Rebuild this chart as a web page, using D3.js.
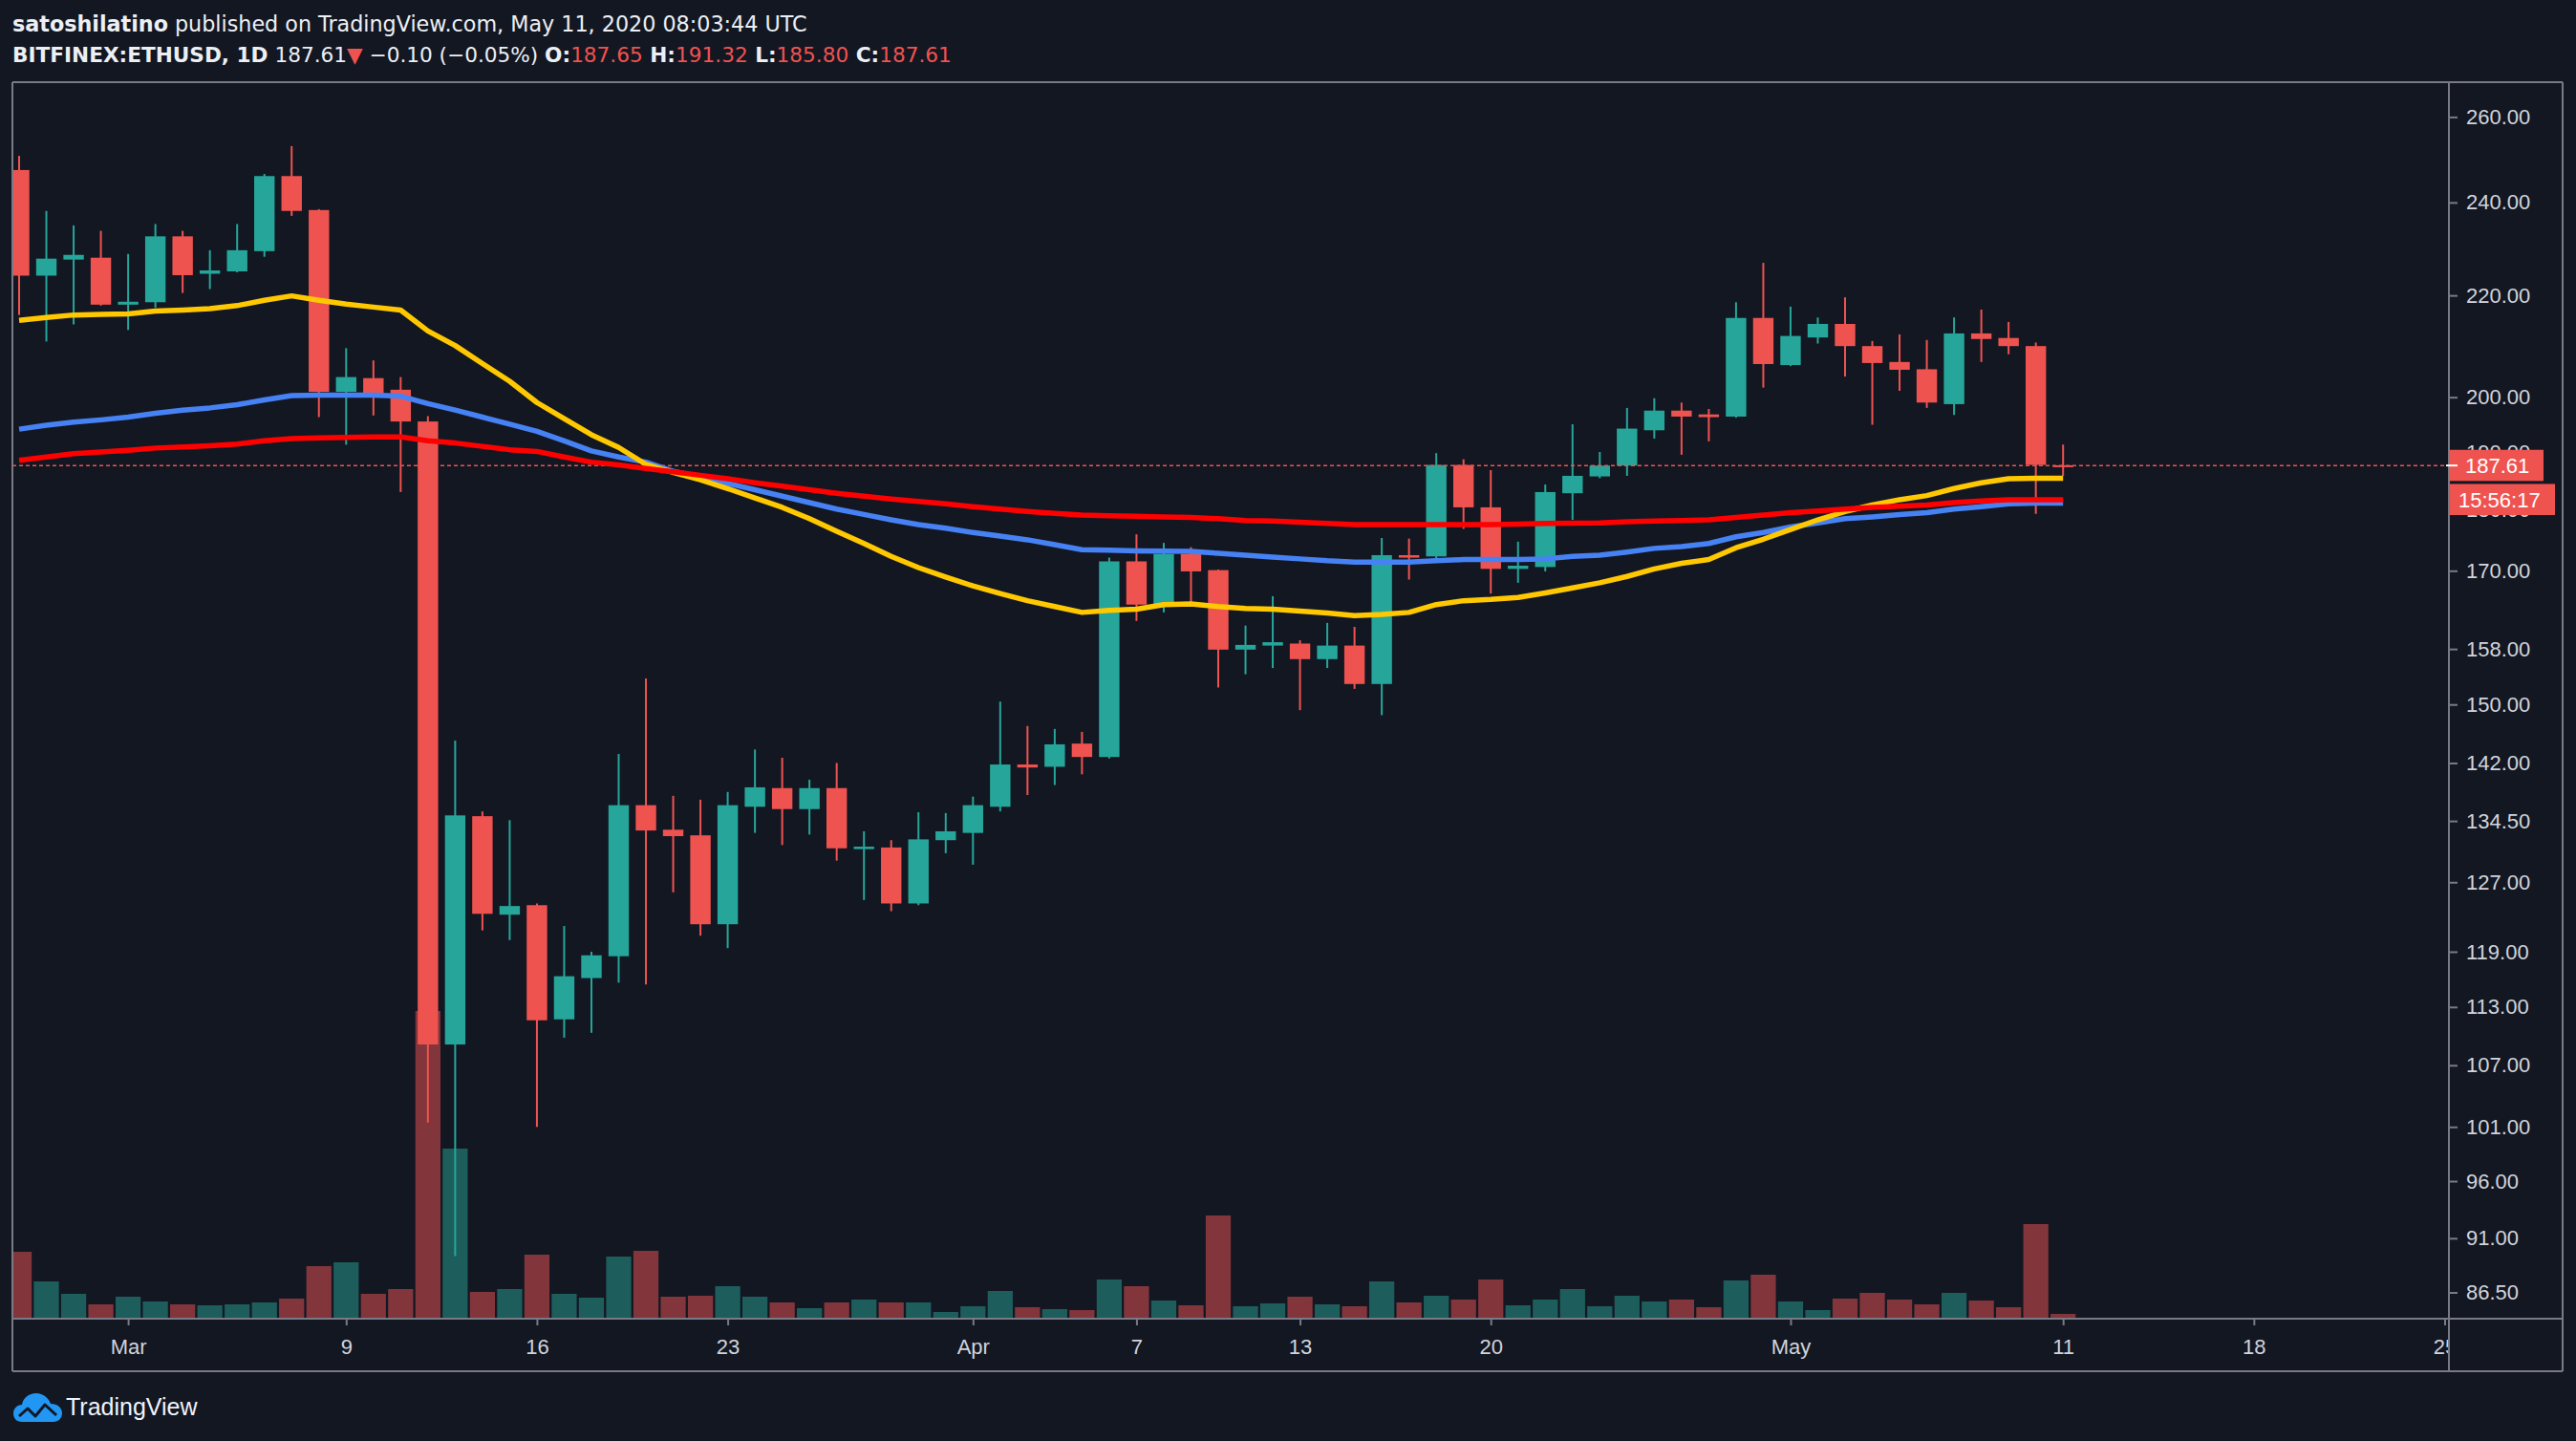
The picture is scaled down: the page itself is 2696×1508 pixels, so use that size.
<!DOCTYPE html>
<html><head><meta charset="utf-8">
<script src="https://cdn.jsdelivr.net/npm/d3@7"></script>
<style>
html,body{margin:0;padding:0;background:#131722;}
svg{display:block;}
</style></head><body>
<svg id="c" width="2696" height="1508"></svg>
<script>
// ---------- DATA ----------
const dates = ["2020-02-26","2020-02-27","2020-02-28","2020-02-29","2020-03-01","2020-03-02","2020-03-03","2020-03-04","2020-03-05","2020-03-06",
"2020-03-07","2020-03-08","2020-03-09","2020-03-10","2020-03-11","2020-03-12","2020-03-13","2020-03-14","2020-03-15","2020-03-16",
"2020-03-17","2020-03-18","2020-03-19","2020-03-20","2020-03-21","2020-03-22","2020-03-23","2020-03-24","2020-03-25","2020-03-26",
"2020-03-27","2020-03-28","2020-03-29","2020-03-30","2020-03-31","2020-04-01","2020-04-02","2020-04-03","2020-04-04","2020-04-05",
"2020-04-06","2020-04-07","2020-04-08","2020-04-09","2020-04-10","2020-04-11","2020-04-12","2020-04-13","2020-04-14","2020-04-15",
"2020-04-16","2020-04-17","2020-04-18","2020-04-19","2020-04-20","2020-04-21","2020-04-22","2020-04-23","2020-04-24","2020-04-25",
"2020-04-26","2020-04-27","2020-04-28","2020-04-29","2020-04-30","2020-05-01","2020-05-02","2020-05-03","2020-05-04","2020-05-05",
"2020-05-06","2020-05-07","2020-05-08","2020-05-09","2020-05-10","2020-05-11"];
const opens = [247.4,224.1,227.5,227.9,218.1,218.6,232.5,224.5,225.0,229.3,
246.0,238.3,201.0,203.6,201.4,195.5,109.1,135.1,123.2,124.3,
111.7,116.1,118.5,136.5,133.4,132.7,122.1,136.3,138.7,136.0,
138.7,131.0,131.2,124.5,132.1,133.0,136.3,141.8,141.5,144.6,
142.8,171.5,164.7,172.7,170.1,157.9,158.5,158.8,156.5,158.5,
152.9,172.5,172.3,187.7,180.4,170.3,170.6,182.8,185.7,187.6,
193.9,197.5,196.8,196.4,215.4,206.1,211.5,214.2,209.8,206.7,
205.3,198.7,212.3,211.4,209.8,187.65];
const highs = [250.7,238.1,234.9,233.7,228.7,235.2,233.7,229.5,235.2,246.5,
253.0,238.5,209.4,207.0,203.8,196.5,145.0,135.7,134.6,124.5,
121.9,119.0,143.2,153.7,137.7,137.2,138.2,143.8,142.7,139.8,
142.0,133.2,132.1,135.6,135.5,137.6,150.4,147.0,146.6,146.2,
172.1,175.9,174.5,173.8,170.2,161.5,166.0,159.3,161.9,161.3,
175.3,175.2,189.8,188.7,186.8,174.7,184.3,195.0,190.0,198.0,
199.8,199.0,197.8,218.6,226.8,217.7,215.5,219.6,210.8,212.1,
211.0,215.5,217.1,214.6,210.5,191.32];
const lows = [216.0,210.7,214.1,217.9,213.0,217.5,220.5,221.3,224.8,228.1,
237.0,196.3,191.3,196.6,183.0,101.4,89.5,121.4,120.3,101.0,
109.8,110.3,115.6,115.4,125.8,120.8,119.4,133.0,131.5,132.8,
129.6,124.9,123.6,124.3,130.5,129.1,135.7,137.8,139.1,140.5,
142.6,162.2,163.5,165.1,152.4,154.3,155.2,149.2,155.2,152.2,
148.5,168.6,172.0,176.8,166.4,168.1,169.9,178.3,185.4,185.8,
192.4,189.5,191.9,196.2,201.8,205.9,210.3,203.9,194.9,201.2,
198.0,196.7,206.7,208.2,179.3,185.80];
const closes = [224.1,227.7,228.5,218.1,218.7,232.5,224.2,225.2,229.5,246.0,
238.1,201.0,203.8,200.4,195.5,109.1,135.2,123.3,124.2,111.6,
116.3,118.6,136.5,133.3,132.6,122.1,136.5,138.8,136.0,138.7,
131.1,131.3,124.5,132.2,133.2,136.5,141.8,141.4,144.5,142.8,
171.5,164.7,172.7,169.9,157.9,158.6,159.0,156.5,158.5,152.9,
172.5,172.1,187.7,180.4,170.3,170.8,183.0,185.8,187.6,194.2,
197.5,196.4,196.3,215.4,206.3,211.8,214.2,209.8,206.5,205.2,
199.0,212.3,211.2,209.8,187.71,187.61];
const volumes = [70,39,26,15,23,18,15,14,15,17,
21,55,59,26,31,322,178,28,31,67,
26,22,65,71,23,24,34,23,17,11,
17,20,17,17,7,13,29,12,10,9,
41,34,19,14,108,13,16,23,15,13,
39,17,24,20,41,14,20,31,13,24,
18,20,12,40,46,18,9,21,27,20,
15,27,19,12,99,5];
const maYellow = [214.9,215.5,216.0,216.1,216.2,216.8,217.0,217.3,217.9,219.0,
219.9,219.0,218.2,217.6,217.0,212.8,209.9,206.4,203.0,199.0,
196.0,193.1,190.8,187.8,186.4,185.1,183.6,182.0,180.4,178.5,
176.4,174.4,172.3,170.5,169.0,167.6,166.4,165.3,164.4,163.5,
163.8,164.0,164.7,164.8,164.4,164.1,164.0,163.7,163.4,163.0,
163.2,163.5,164.7,165.3,165.5,165.8,166.5,167.3,168.1,169.1,
170.3,171.2,171.8,173.7,175.1,176.7,178.3,179.7,180.8,181.7,
182.4,183.6,184.6,185.3,185.4,185.4];
const maBlue = [194.1,194.8,195.4,195.8,196.3,197.0,197.6,198.0,198.6,199.5,
200.3,200.4,200.4,200.4,200.2,198.8,197.6,196.3,195.0,193.7,
192.0,190.2,189.1,188.2,186.6,185.6,184.5,183.4,182.3,181.2,
180.1,179.2,178.3,177.5,176.9,176.2,175.6,175.0,174.2,173.4,
173.3,173.2,173.15,173.1,172.8,172.5,172.2,171.9,171.6,171.4,
171.4,171.4,171.6,171.8,171.8,171.8,171.9,172.3,172.5,173.0,
173.6,173.9,174.4,175.5,176.2,177.1,177.8,178.5,178.8,179.2,
179.5,180.1,180.5,181.0,181.1,181.1];
const maRed = [188.5,189.1,189.7,190.0,190.3,190.7,190.9,191.1,191.4,192.0,
192.4,192.5,192.6,192.7,192.7,192.0,191.6,191.0,190.4,190.1,
189.1,188.2,187.7,187.1,186.5,185.9,185.3,184.6,184.0,183.4,
182.8,182.3,181.8,181.4,181.0,180.5,180.1,179.7,179.4,179.1,
179.0,178.9,178.8,178.7,178.5,178.2,178.1,177.9,177.7,177.5,
177.5,177.5,177.5,177.5,177.5,177.6,177.7,177.75,177.8,178.0,
178.1,178.2,178.3,178.7,179.1,179.5,179.8,180.1,180.4,180.6,
180.8,181.2,181.5,181.7,181.7,181.7];
const priceTicks = [260,240,220,200,190,180,170,158,150,142,134.5,127,119,113,107,101,96,91,86.5];
const timeTicks = ["2020-03-01","2020-03-09","2020-03-16","2020-03-23","2020-04-01","2020-04-07","2020-04-13","2020-04-20","2020-05-01","2020-05-11","2020-05-18","2020-05-25"];
const timeLabels = ["Mar","9","16","23","Apr","7","13","20","May","11","18","25"];
const countdown = "15:56:17";

// ---------- SETUP ----------
const W = 2696, H = 1508;
const plotL = 13, plotR = 2563, plotT = 87, plotB = 1380, axisB = 1435, outerR = 2682;
const UP = "#26a69a", DOWN = "#ef5350";
const UPV = "#1d5e5d", DOWNV = "#82363b";
const LINE = "#787b86", TXT = "#d1d4dc";
const svg = d3.select("#c");
svg.append("rect").attr("width", W).attr("height", H).attr("fill", "#131722");

const parse = d3.utcParse("%Y-%m-%d");
const data = dates.map((d, i) => ({date: parse(d), o: opens[i], h: highs[i], l: lows[i], c: closes[i], v: volumes[i]}));

const x = d3.scaleUtc().domain([parse("2020-03-01"), parse("2020-05-25")]).range([134.1, 2558.5]);
const y = d3.scaleLog().domain([260, 86.5]).range([122.4, 1352.5]);
const yv = d3.scaleLinear().domain([0, 322]).range([plotB, 1058]);
const day = x(parse("2020-03-02")) - x(parse("2020-03-01"));

const defs = svg.append("defs");
defs.append("clipPath").attr("id", "plotclip").append("rect")
  .attr("x", plotL).attr("y", plotT).attr("width", plotR - plotL).attr("height", plotB - plotT);
defs.append("clipPath").attr("id", "timeclip").append("rect")
  .attr("x", plotL).attr("y", plotB).attr("width", plotR - plotL).attr("height", axisB - plotB);

const plot = svg.append("g").attr("clip-path", "url(#plotclip)");

// volume
const vw = day * 0.92;
plot.append("g").selectAll("rect").data(data).join("rect")
  .attr("x", d => x(d.date) - vw / 2).attr("width", vw)
  .attr("y", d => yv(d.v)).attr("height", d => plotB - yv(d.v))
  .attr("fill", d => d.c >= d.o ? UPV : DOWNV);

// candles
const bw = day * 0.75;
const cg = plot.append("g");
cg.selectAll("line").data(data).join("line")
  .attr("x1", d => x(d.date)).attr("x2", d => x(d.date))
  .attr("y1", d => y(d.h)).attr("y2", d => y(d.l))
  .attr("stroke", d => d.c >= d.o ? UP : DOWN).attr("stroke-width", 2);
cg.selectAll("rect").data(data).join("rect")
  .attr("x", d => x(d.date) - bw / 2).attr("width", bw)
  .attr("y", d => y(Math.max(d.o, d.c)))
  .attr("height", d => Math.max(2, Math.abs(y(d.o) - y(d.c))))
  .attr("fill", d => d.c >= d.o ? UP : DOWN);

// last price line
const last = data[data.length - 1];
const prev = data[data.length - 2];
plot.append("line").attr("x1", plotL).attr("x2", plotR)
  .attr("y1", y(last.c)).attr("y2", y(last.c))
  .attr("stroke", DOWN).attr("stroke-width", 1.5).attr("stroke-dasharray", "4,3");

// moving averages
function maLine(vals, color) {
  const ln = d3.line().x((v, i) => x(data[i].date)).y(v => y(v));
  plot.append("path").datum(vals).attr("d", ln).attr("fill", "none")
    .attr("stroke", color).attr("stroke-width", 5.5)
    .attr("stroke-linejoin", "round").attr("stroke-linecap", "butt");
}
maLine(maBlue, "#4682f4");
maLine(maYellow, "#ffc800");
maLine(maRed, "#ff0000");

// ---------- AXES ----------
const fmt = d3.format(".2f");
const ya = svg.append("g").attr("transform", `translate(${plotR},0)`)
  .call(d3.axisRight(y).tickValues(priceTicks).tickFormat(fmt).tickSize(9).tickPadding(9));
ya.select(".domain").remove();
ya.selectAll("line").attr("stroke", LINE).attr("stroke-width", 2);
ya.selectAll("text").attr("fill", TXT).attr("font-family", "Liberation Sans, Arial, sans-serif").attr("font-size", 22);

const xwrap = svg.append("g").attr("clip-path", "url(#timeclip)");
const xa = xwrap.append("g").attr("transform", `translate(0,${plotB})`)
  .call(d3.axisBottom(x).tickValues(timeTicks.map(parse)).tickFormat((d, i) => timeLabels[i]).tickSize(7).tickPadding(14));
xa.select(".domain").remove();
xa.selectAll("line").attr("stroke", LINE).attr("stroke-width", 2);
xa.selectAll("text").attr("fill", TXT).attr("font-family", "Liberation Sans, Arial, sans-serif").attr("font-size", 22);

// frame
const fr = svg.append("g").attr("stroke", LINE).attr("stroke-width", 2);
fr.append("line").attr("x1", plotL).attr("x2", outerR).attr("y1", 86).attr("y2", 86);
fr.append("line").attr("x1", plotL).attr("x2", outerR).attr("y1", plotB).attr("y2", plotB);
fr.append("line").attr("x1", plotL).attr("x2", outerR).attr("y1", axisB).attr("y2", axisB);
fr.append("line").attr("x1", plotL).attr("x2", plotL).attr("y1", 86).attr("y2", axisB);
fr.append("line").attr("x1", plotR).attr("x2", plotR).attr("y1", 86).attr("y2", axisB);
fr.append("line").attr("x1", outerR).attr("x2", outerR).attr("y1", 86).attr("y2", axisB);

// price labels
const py = y(last.c);
svg.append("rect").attr("x", plotR).attr("y", py - 16.4).attr("width", 99).attr("height", 32.6).attr("fill", DOWN);
svg.append("line").attr("x1", plotR - 3).attr("x2", plotR + 9).attr("y1", py).attr("y2", py).attr("stroke", "#ffffff").attr("stroke-width", 2);
svg.append("text").attr("x", 2580).attr("y", py + 8).attr("fill", "#ffffff")
  .attr("font-family", "Liberation Sans, Arial, sans-serif").attr("font-size", 22).text(fmt(last.c));
svg.append("rect").attr("x", plotR + 1).attr("y", py + 19.3).attr("width", 110).attr("height", 32.6).attr("fill", DOWN);
svg.append("text").attr("x", 2573).attr("y", py + 43.5).attr("fill", "#ffffff")
  .attr("font-family", "Liberation Sans, Arial, sans-serif").attr("font-size", 22).text(countdown);

// ---------- HEADER ----------
function richText(x0, yb, parts, fs, target) {
  const t = svg.append("text").attr("x", x0).attr("y", yb)
    .attr("font-family", "DejaVu Sans, sans-serif").attr("font-size", fs)
    .attr("fill", "#eceff4").style("white-space", "pre");
  parts.forEach(p => t.append("tspan").text(p.t).attr("font-weight", p.b ? "bold" : "normal").attr("fill", p.c || "#eceff4"));
  const w = t.node().getComputedTextLength();
  if (w > 0) t.attr("font-size", fs * target / w);
}
richText(13, 33, [{t: "satoshilatino", b: 1}, {t: " published on TradingView.com, May 11, 2020 08:03:44 UTC"}], 21, 832);
const chg = last.c - prev.c;
const pct = chg / prev.c * 100;
const sgn = v => (v < 0 ? "\u2212" : "+") + Math.abs(v).toFixed(2);
richText(13, 65, [
  {t: "BITFINEX:ETHUSD, 1D", b: 1},
  {t: " " + fmt(last.c)},
  {t: "\u25BC", c: DOWN},
  {t: " " + sgn(chg) + " (" + sgn(pct) + "%) "},
  {t: "O:", b: 1}, {t: fmt(last.o), c: DOWN},
  {t: " H:", b: 1}, {t: fmt(last.h), c: DOWN},
  {t: " L:", b: 1}, {t: fmt(last.l), c: DOWN},
  {t: " C:", b: 1}, {t: fmt(last.c), c: DOWN}
], 21, 983);

// ---------- LOGO ----------
const logo = svg.append("g").attr("transform", "translate(14,1457)");
logo.append("path")
  .attr("d", "M9,31 C3,31 0,27 0,22 C0,17 4,13 9,13 C10,6 16,1 24,1 C31,1 37,6 39,12 C46,12 51,16 51,22 C51,27 47,31 42,31 Z")
  .attr("fill", "#2196f3");
logo.append("path").attr("d", "M6,25 L15,17 L23,25 L33,13 L45,24")
  .attr("fill", "none").attr("stroke", "#131722").attr("stroke-width", 3).attr("stroke-linejoin", "round");
svg.append("text").attr("x", 69).attr("y", 1481).attr("fill", "#f0f3fa")
  .attr("font-family", "Liberation Sans, Arial, sans-serif").attr("font-size", 25).text("TradingView");
</script>
</body></html>
